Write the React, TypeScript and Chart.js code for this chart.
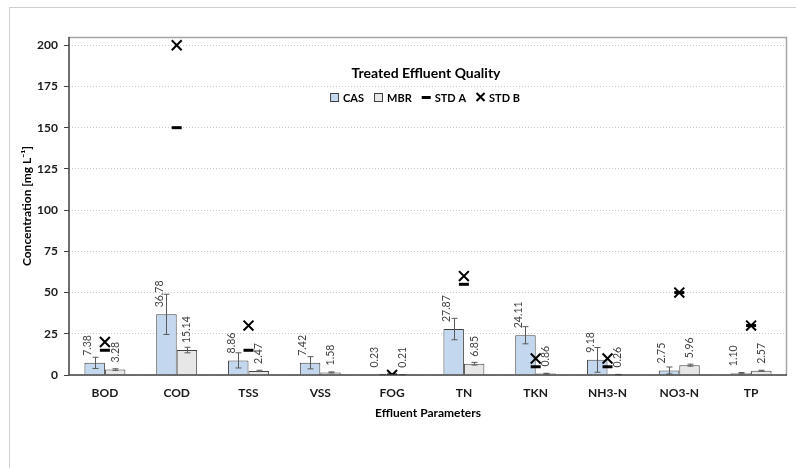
import React, { useEffect, useRef } from 'react';
import { Chart, registerables } from 'chart.js';

Chart.register(...registerables);

// ---- data ----
const categories = ['BOD', 'COD', 'TSS', 'VSS', 'FOG', 'TN', 'TKN', 'NH3-N', 'NO3-N', 'TP'];
const casValues = [7.38, 36.78, 8.86, 7.42, 0.23, 27.87, 24.11, 9.18, 2.75, 1.1];
const mbrValues = [3.28, 15.14, 2.47, 1.58, 0.21, 6.85, 0.86, 0.26, 5.96, 2.57];
const casErrors = [3.4, 12.2, 4.6, 3.7, 0.1, 6.5, 5.2, 7.5, 2.1, 0.4];
const mbrErrors = [0.5, 1.7, 0.4, 0.3, 0.05, 0.8, 0.2, 0.1, 0.6, 0.3];
const stdA = [15, 150, 15, null, 0, 55, 5, 5, 50, 30];
const stdB = [20, 200, 30, null, 0, 60, 10, 10, 50, 30];
const yTicks = [0, 25, 50, 75, 100, 125, 150, 175, 200];
const chartTitle = 'Treated Effluent Quality';
const xTitle = 'Effluent Parameters';
const yTitle = 'Concentration [mg L\u207B\u00B9]';

const FONT = 'Lato';
const errorsByDataset = [casErrors, mbrErrors];
const labelXOffset = [-7, 0];

const overlayPlugin = {
  id: 'overlay',
  beforeDraw(chart: any) {
    const ctx = chart.ctx;
    ctx.save();
    ctx.fillStyle = '#ffffff';
    ctx.fillRect(0, 0, chart.width, chart.height);
    ctx.strokeStyle = '#d0d0d0';
    ctx.lineWidth = 1;
    ctx.strokeRect(9.5, 7.5, 900, 600);
    ctx.restore();
  },
  afterDatasetsDraw(chart: any) {
    const ctx = chart.ctx;
    const ca = chart.chartArea;
    const yScale = chart.scales.y;
    ctx.save();
    // error bars
    [0, 1].forEach((di) => {
      const meta = chart.getDatasetMeta(di);
      const vals = chart.data.datasets[di].data as number[];
      const errs = errorsByDataset[di];
      meta.data.forEach((el: any, i: number) => {
        const x = Math.round(el.x) + 0.5;
        const yHi = yScale.getPixelForValue(vals[i] + errs[i]);
        const yLo = yScale.getPixelForValue(Math.max(0, vals[i] - errs[i]));
        ctx.strokeStyle = '#595959';
        ctx.lineWidth = 1;
        ctx.beginPath();
        ctx.moveTo(x, yHi);
        ctx.lineTo(x, yLo);
        ctx.moveTo(x - 3, yHi);
        ctx.lineTo(x + 3, yHi);
        ctx.moveTo(x - 3, yLo);
        ctx.lineTo(x + 3, yLo);
        ctx.stroke();
      });
    });
    // data labels
    ctx.fillStyle = '#404040';
    ctx.font = `10.5px ${FONT}`;
    ctx.textAlign = 'left';
    ctx.textBaseline = 'middle';
    [0, 1].forEach((di) => {
      const meta = chart.getDatasetMeta(di);
      const vals = chart.data.datasets[di].data as number[];
      meta.data.forEach((el: any, i: number) => {
        ctx.save();
        ctx.translate(el.x + labelXOffset[di], el.y - 7);
        ctx.rotate(-Math.PI / 2);
        ctx.fillText(vals[i].toFixed(2), 0, 0);
        ctx.restore();
      });
    });
    // plot frame
    ctx.strokeStyle = '#a6a6a6';
    ctx.lineWidth = 1.5;
    ctx.beginPath();
    ctx.moveTo(ca.left, ca.top + 0.5);
    ctx.lineTo(ca.right - 0.5, ca.top + 0.5);
    ctx.lineTo(ca.right - 0.5, ca.bottom);
    ctx.stroke();
    ctx.strokeStyle = '#404040';
    ctx.lineWidth = 1.5;
    ctx.beginPath();
    ctx.moveTo(ca.left, ca.top);
    ctx.lineTo(ca.left, ca.bottom);
    ctx.lineTo(ca.right, ca.bottom);
    ctx.stroke();
    ctx.restore();
  },
  afterDraw(chart: any) {
    const ctx = chart.ctx;
    const ca = chart.chartArea;
    const cx = (ca.left + ca.right) / 2 - 3;
    ctx.save();
    ctx.fillStyle = '#000000';
    ctx.font = `bold 14px ${FONT}`;
    ctx.textAlign = 'center';
    ctx.textBaseline = 'middle';
    ctx.fillText(chartTitle, cx + 1, 73);

    // legend
    ctx.font = `bold 11px ${FONT}`;
    const ds = chart.data.datasets;
    const markerW = 9;
    const gapText = 4;
    const gapItem = 10;
    const widths = ds.map((d: any) => markerW + gapText + ctx.measureText(d.label).width);
    const total = widths.reduce((a: number, b: number) => a + b, 0) + gapItem * (ds.length - 1);
    let x = cx - total / 2;
    const y = 97;
    ds.forEach((d: any, i: number) => {
      ctx.save();
      if (d.type === 'bar' || !d.type) {
        ctx.fillStyle = d.backgroundColor;
        ctx.fillRect(x + 0.5, y - 3.5, 8, 8);
        ctx.strokeStyle = d.borderColor;
        ctx.lineWidth = 1;
        ctx.strokeRect(x + 0.5, y - 3.5, 8, 8);
      } else if (d.pointStyle === 'line') {
        ctx.strokeStyle = '#000';
        ctx.lineWidth = 3;
        ctx.beginPath();
        ctx.moveTo(x, y + 0.5);
        ctx.lineTo(x + 9, y + 0.5);
        ctx.stroke();
      } else {
        ctx.strokeStyle = '#000';
        ctx.lineWidth = 2;
        ctx.beginPath();
        ctx.moveTo(x + 0.5, y - 4);
        ctx.lineTo(x + 8.5, y + 4);
        ctx.moveTo(x + 8.5, y - 4);
        ctx.lineTo(x + 0.5, y + 4);
        ctx.stroke();
      }
      ctx.restore();
      ctx.fillStyle = '#000';
      ctx.textAlign = 'left';
      ctx.fillText(d.label, x + markerW + gapText, y + 1);
      x += widths[i] + gapItem;
    });
    ctx.restore();
  },
};

export default function App() {
  const ref = useRef<HTMLCanvasElement | null>(null);
  useEffect(() => {
    document.body.style.margin = '0';
    const canvas = ref.current;
    if (!canvas) return;
    const chart = new Chart(canvas, {
      type: 'bar',
      data: {
        labels: categories,
        datasets: [
          {
            type: 'bar',
            label: 'CAS',
            data: casValues,
            backgroundColor: '#c3d8ef',
            borderColor: '#404040',
            borderWidth: 1,
            categoryPercentage: 0.57,
            barPercentage: 1.0,
            order: 2,
          },
          {
            type: 'bar',
            label: 'MBR',
            data: mbrValues,
            backgroundColor: '#e7e7e7',
            borderColor: '#404040',
            borderWidth: 1,
            categoryPercentage: 0.57,
            barPercentage: 1.0,
            order: 2,
          },
          {
            type: 'line',
            label: 'STD A',
            data: stdA,
            showLine: false,
            pointStyle: 'line',
            pointRadius: 5,
            pointBorderWidth: 3,
            borderColor: '#000000',
            backgroundColor: '#000000',
            order: 1,
          },
          {
            type: 'line',
            label: 'STD B',
            data: stdB,
            showLine: false,
            pointStyle: 'crossRot',
            pointRadius: 7,
            pointBorderWidth: 2,
            borderColor: '#000000',
            backgroundColor: '#000000',
            order: 0,
          },
        ] as any,
      },
      options: {
        animation: false,
        responsive: false,
        devicePixelRatio: 1,
        layout: { padding: { left: 0, top: 37, right: 4, bottom: 0 } },
        plugins: {
          legend: { display: false },
          title: { display: false },
          tooltip: { enabled: false },
        },
        scales: {
          x: {
            afterFit: (s: any) => {
              s.height = 93;
            },
            grid: { display: false },
            border: { display: false },
            ticks: {
              font: { family: FONT, weight: 'bold', size: 12 },
              color: '#1a1a1a',
              padding: 3,
              maxRotation: 0,
              autoSkip: false,
            },
            title: {
              display: true,
              text: xTitle,
              font: { family: FONT, weight: 'bold', size: 12 },
              color: '#000000',
              padding: { top: 0, bottom: 48 },
            },
          },
          y: {
            min: 0,
            max: 205,
            afterFit: (s: any) => {
              s.width = 69;
            },
            afterBuildTicks: (axis: any) => {
              axis.ticks = yTicks.map((v) => ({ value: v }));
            },
            grid: {
              color: '#c8c8c8',
              tickColor: '#404040',
              tickLength: 5,
              lineWidth: 1,
            },
            border: { display: false, dash: [1, 2] },
            ticks: {
              font: { family: FONT, weight: 'bold', size: 12 },
              color: '#1a1a1a',
              padding: 6,
            },
            title: {
              display: true,
              text: yTitle,
              font: { family: FONT, weight: 'bold', size: 12 },
              color: '#000000',
              padding: { top: 20, bottom: 0 },
            },
          },
        },
      },
      plugins: [overlayPlugin],
    });
    return () => chart.destroy();
  }, []);
  return <canvas ref={ref} width={796} height={468} style={{ display: 'block', width: 796, height: 468 }} />;
}
